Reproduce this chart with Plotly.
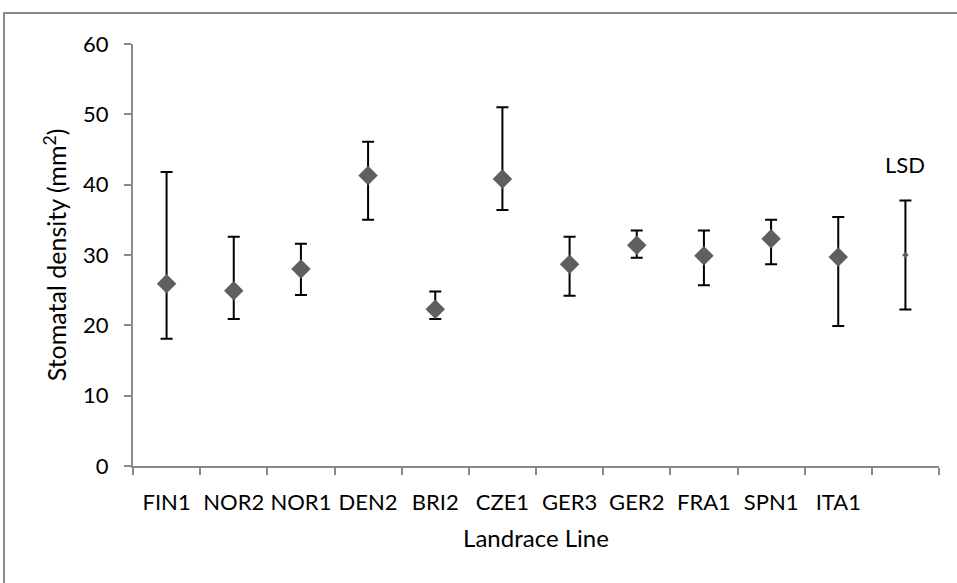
import plotly.graph_objects as go

# Landrace lines and stomatal density (mean with error range)
lines = ["FIN1", "NOR2", "NOR1", "DEN2", "BRI2", "CZE1", "GER3", "GER2", "FRA1", "SPN1", "ITA1"]
density = [25.9, 24.9, 28.0, 41.3, 22.3, 40.8, 28.7, 31.4, 29.9, 32.3, 29.7]
err_plus = [15.9, 7.7, 3.6, 4.8, 2.5, 10.2, 3.9, 2.1, 3.6, 2.7, 5.7]
err_minus = [7.8, 4.0, 3.7, 6.3, 1.4, 4.4, 4.5, 1.8, 4.2, 3.6, 9.8]

# Least significant difference bar, drawn in its own unlabelled slot
lsd_slot = " "
lsd_centre = 30.0
lsd_half = 7.75

categories = lines + [lsd_slot]

W, H = 957, 583
ML, MR, MT, MB = 133, 18, 44, 117
FONT = "Lato"
AXIS_GREY = "#8a8a8a"

fig = go.Figure()

fig.add_trace(go.Scatter(
    x=lines, y=density, mode="markers",
    marker=dict(symbol="diamond", size=15, color="#5f5f5f"),
    error_y=dict(type="data", symmetric=False, array=err_plus, arrayminus=err_minus,
                 color="black", thickness=2, width=6),
    showlegend=False, hoverinfo="x+y",
))

fig.add_trace(go.Scatter(
    x=[lsd_slot], y=[lsd_centre], mode="markers",
    marker=dict(symbol="diamond", size=5, color="#5f5f5f"),
    error_y=dict(type="constant", value=lsd_half, color="black", thickness=2, width=6),
    showlegend=False, hoverinfo="y",
))

fig.add_annotation(x=lsd_slot, y=lsd_centre + lsd_half, yshift=36, text="LSD",
                   showarrow=False, font=dict(family=FONT, size=22, color="black"))

# Outer chart border
pw, ph = W - ML - MR, H - MT - MB
fig.add_shape(type="rect", xref="paper", yref="paper",
              x0=(4 - ML) / pw, x1=(W + 5 - ML) / pw,
              y0=-(H + 5 - MT - ph) / ph, y1=(H - 13 - MB) / ph,
              line=dict(color=AXIS_GREY, width=2), fillcolor="rgba(0,0,0,0)", layer="below")

fig.update_layout(
    width=W, height=H,
    margin=dict(l=ML, r=MR, t=MT, b=MB, pad=0),
    paper_bgcolor="white", plot_bgcolor="white",
    font=dict(family=FONT, size=22, color="black"),
    xaxis=dict(
        type="category", categoryorder="array", categoryarray=categories,
        range=[-0.5, len(categories) - 0.5],
        tickson="boundaries", ticks="outside", ticklen=7, tickwidth=2, tickcolor=AXIS_GREY,
        showline=True, linecolor=AXIS_GREY, linewidth=2, showgrid=False, zeroline=False,
        tickangle=0, ticklabelstandoff=16,
        title=dict(text="Landrace Line", font=dict(family=FONT, size=24), standoff=16),
    ),
    yaxis=dict(
        range=[0, 60], dtick=10, ticks="outside", ticklen=7, tickwidth=2, tickcolor=AXIS_GREY,
        showline=True, linecolor=AXIS_GREY, linewidth=2, showgrid=False, zeroline=False,
        ticklabelstandoff=11,
        title=dict(text="Stomatal density (mm<sup>2</sup>)", font=dict(family=FONT, size=25), standoff=9),
    ),
)

fig.write_html("out.html")
